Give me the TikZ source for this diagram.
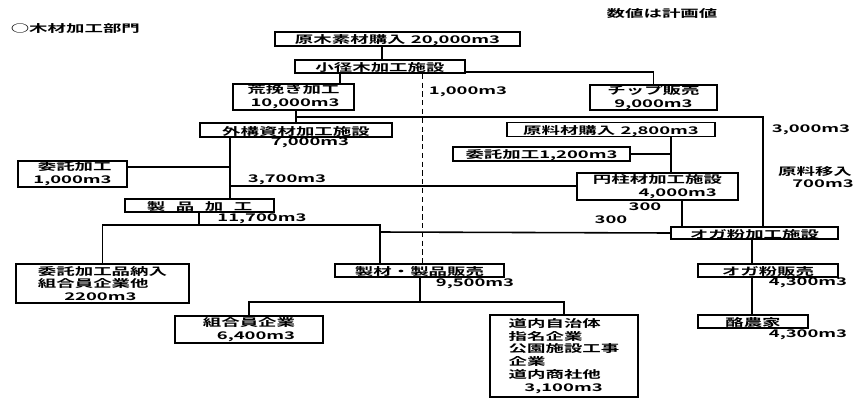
\documentclass[tikz,border=0pt]{standalone}
\usepackage{fontspec}
\setmainfont{Noto Sans CJK JP Bold}[FakeStretch=1.75]
\tikzset{
  every node/.style={font=\fontsize{6}{7.3}\selectfont},
  box/.style 2 args={draw, line width=0.9pt, inner sep=0pt,
    minimum width=#1*0.02cm, minimum height=#2*0.02cm,
    execute at begin node=\rule{0pt}{6.6pt}},
  lbl/.style={inner sep=0pt},
}
\begin{document}
\begin{tikzpicture}[x=0.02cm, y=-0.02cm, line width=0.9pt]
    \useasboundingbox (0,0) rectangle (857,399);
    \node[lbl, anchor=west] (title) at (10,28) {○木材加工部門};
    \node[lbl] (note) at (662,14) {数値は計画値};
    % boxes
    \node[box={245}{14}] (genboku) at (397.5,39) {原木素材購入\enspace 20,000m3};
    \node[box={170}{13}] (shokei) at (380,66.5) {小径木加工施設};
    \node[box={121}{26}, align=right] (arabiki) at (293.5,97) {荒挽き加工\\10,000m3};
    \node[box={127}{25}, align=center] (chip) at (653.5,97.5) {チップ販売\\9,000m3};
    \node[box={192}{14}] (gaiko) at (296,130) {外構資材加工施設};
    \node[box={208}{13}] (genryo) at (611,129.5) {原料材購入\enspace 2,800m3};
    \node[box={109}{26}, align=right] (itaku1) at (72.5,174) {委託加工\\1,000m3};
    \node[box={177}{12}] (itaku2) at (541.5,154) {委託加工1,200m3};
    \node[box={161}{27}, align=right] (enchu) at (657.5,186.5) {円柱材加工施設\\4,000m3\hspace*{0.5em}};
    \node[box={149}{13}] (seihin) at (199.5,205.5) {製\hspace{1em}品\hspace{1em}加\hspace{1em}工};
    \node[box={167}{12}] (oga) at (754.5,233) {オガ粉加工施設};
    \node[box={173}{39}, align=left] (itakuhin) at (102.5,283.5) {委託加工品納入\\組合員企業他\\\hspace*{2.5em}2200m3};
    \node[box={169}{13}] (seizai) at (419.5,270.5) {製材・製品販売};
    \node[box={140}{12}] (ogahan) at (768,270.5) {オガ粉販売};
    \node[box={148}{27}, align=right] (kumiai) at (249,329.5) {組合員企業\\6,400m3};
    \node[box={148}{82}, align=left] (dounai) at (564,356) {道内自治体\\指名企業\\公園施設工事\\企業\\道内商社他\\\hspace*{1.5em}3,100m3};
    \node[box={110}{12}] (rakuno) at (753,321.5) {酪農家};
    % quantities
    \node[lbl] (v1000) at (468,92) {1,000m3};
    \node[lbl] (v7000) at (310,143) {7,000m3};
    \node[lbl] (v3700) at (287,180) {3,700m3};
    \node[lbl] (v11700) at (262,219) {11,700m3};
    \node[lbl] (v300a) at (645,207) {300};
    \node[lbl] (v300b) at (611,220) {300};
    \node[lbl] (v3000) at (811,130) {3,000m3};
    \node[lbl] (iten) at (815,172) {原料移入};
    \node[lbl] (v700) at (823,184) {700m3};
    \node[lbl] (v9500) at (475,284) {9,500m3};
    \node[lbl] (v4300a) at (808,283) {4,300m3};
    \node[lbl] (v4300b) at (808,335) {4,300m3};
    % flows
    \draw (genboku.south -| 382,0) -- (shokei.north -| 382,0);
    \draw (shokei.south -| 340,0) -- (arabiki.north -| 340,0);
    \draw (shokei.south east) ++(0,-2) -| (chip.north);
    \draw (gaiko.north |- arabiki.south) -- (gaiko.north);
    \draw (gaiko.north |- 0,117) -| (oga.north -| 763,0);
    \draw (gaiko.south -| 230,0) -- (seihin.north -| 230,0);
    \draw (itaku1.east |- 0,167) -- (230,167);
    \draw (230,186) -- (enchu.west |- 0,186);
    \draw (seihin.south -| 199,0) -- (199,225);
    \draw (itakuhin.north) |- (380,225) -- (seizai.north -| 380,0);
    \draw (380,232) -- (oga.west);
    \draw (genryo.south -| 671,0) -- (enchu.north -| 671,0);
    \draw (itaku2.east) -- (itaku2.east -| 671,0);
    \draw (enchu.south -| 682,0) -- (oga.north -| 682,0);
    \draw (oga.south -| 752,0) -- (ogahan.north -| 752,0);
    \draw (ogahan.south -| 752,0) -- (rakuno.north -| 752,0);
    \draw (seizai.south -| 420,0) -- (420,302);
    \draw (kumiai.north) |- (dounai.north |- 0,302) -- (dounai.north);
    \draw[thin, densely dashed] (shokei.south -| 422,0) -- (seizai.north -| 422,0);
\end{tikzpicture}
\end{document}
